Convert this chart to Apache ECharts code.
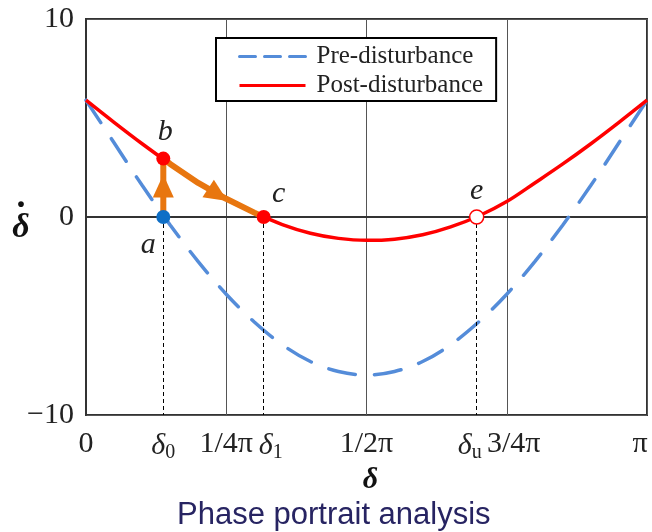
<!DOCTYPE html>
<html>
<head>
<meta charset="utf-8">
<script src="https://cdn.jsdelivr.net/npm/echarts@6/dist/echarts.min.js"></script>
<style>html,body{margin:0;padding:0;background:#fff}#c{width:652px;height:532px}</style>
</head>
<body>
<div id="c"></div>
<script>
// x values are in units of π (0 … 1)
const xs = [0, 0.05, 0.1, 0.15, 0.2, 0.25, 0.3, 0.35, 0.4, 0.45, 0.5, 0.55, 0.6, 0.65, 0.7, 0.75, 0.8, 0.85, 0.9, 0.95, 1];
const preDisturbance = [5.9, 3.75, 1.6, -0.4, -2.25, -3.9, -5.3, -6.45, -7.3, -7.8, -7.98, -7.8, -7.3, -6.45, -5.3, -3.9, -2.25, -0.4, 1.6, 3.75, 5.9];
const postDisturbance = [5.9, 4.78, 3.7, 2.68, 1.72, 0.92, 0.22, -0.38, -0.82, -1.08, -1.18, -1.12, -0.9, -0.5, 0.05, 0.78, 1.72, 2.68, 3.7, 4.78, 5.9];

// marked points a, b, c, e
const pointNames = ['a', 'b', 'c', 'e'];
const pointX = [0.1378, 0.1378, 0.3167, 0.6964];
const pointY = [0, 2.95, 0, 0];

// orange trajectory b -> c (along the post-disturbance curve)
const pathX = [0.15, 0.2, 0.25, 0.3];
const pathY = [2.68, 1.72, 0.92, 0.22];

// arrow heads
const arrowX = [0.1378, 0.235];
const arrowY = [1.57, 1.12];
const arrowRot = [0, -123];

const xTickValues = [0, pointX[0], 0.25, pointX[2], 0.5, pointX[3], 0.75, 1];
const xTickLabels = ['0', 'δ0', '1/4π', 'δ1', '1/2π', 'δu', '3/4π', 'π'];
const yTicks = [-10, 0, 10];

const serif = 'Liberation Serif';
const labelShift = {'δ1': [0, 0, 0, 14], 'δu': [0, 14, 0, 0], '3/4π': [0, 0, 0, 14], 'π': [0, 12, 0, 0]};

function fmtX(v) {
  let idx = 0, best = 1e9;
  xTickValues.forEach((t, i) => { const d = Math.abs(t - v); if (d < best) { best = d; idx = i; } });
  const s = xTickLabels[idx];
  const sh = labelShift[s];
  const pre = sh && sh[3] ? '{padL|}' : '';
  const post = sh && sh[1] ? '{padR|}' : '';
  if (s.startsWith('δ')) return pre + '{d|δ}{s|' + s.slice(1) + '}' + post;
  return pre + '{n|' + s + '}' + post;
}

const chart = echarts.init(document.getElementById('c'), null, {renderer: 'canvas'});

const labelOffsets = {a: [-15, 28], b: [2, -26], c: [15, -23], e: [0, -26]};
const markers = pointNames.map((n, i) => {
  const item = {value: [pointX[i], pointY[i]], name: n, label: {offset: labelOffsets[n]}};
  if (n === 'a') item.itemStyle = {color: '#0f6fc6'};
  else if (n === 'e') item.itemStyle = {color: '#fff', borderColor: '#ff0000', borderWidth: 1.5};
  else item.itemStyle = {color: '#ff0000'};
  return item;
});

const orangePath = [[pointX[0], pointY[0]], [pointX[1], pointY[1]]]
  .concat(pathX.map((x, i) => [x, pathY[i]]))
  .concat([[pointX[2], pointY[2]]]);

const hiddenSymbol = {color: 'rgba(0,0,0,0)', borderWidth: 0, opacity: 0};

const option = {
  animation: false,
  backgroundColor: '#fff',
  title: {
    text: 'Phase portrait analysis',
    left: 172, top: 495,
    textStyle: {fontFamily: 'Liberation Sans', fontSize: 31, fontWeight: 'normal', color: '#272462'}
  },
  grid: {left: 86, right: 5, top: 19, bottom: 117, show: true, borderColor: '#333', borderWidth: 2, backgroundColor: 'transparent', outerBoundsMode: 'none'},
  legend: {
    orient: 'vertical', left: 216, top: 38,
    padding: [6, 13, 3, 22],
    itemWidth: 66, itemHeight: 20, itemGap: 4,
    borderColor: '#000', borderWidth: 2, backgroundColor: '#fff',
    textStyle: {fontFamily: serif, fontSize: 25, color: '#222', padding: [0, 0, 0, 6]},
    data: [
      {name: 'Pre-disturbance', lineStyle: {type: [16, 9], width: 3}, itemStyle: hiddenSymbol},
      {name: 'Post-disturbance', lineStyle: {width: 3}, itemStyle: hiddenSymbol}
    ]
  },
  xAxis: {
    type: 'value', min: 0, max: 1, interval: 0.25,
    name: 'δ', nameLocation: 'middle', nameGap: 50, nameMoveOverlap: false,
    nameTextStyle: {fontFamily: serif, fontSize: 30, fontWeight: 'bold', fontStyle: 'italic', color: '#111', padding: [0, 0, 0, 8]},
    axisLine: {show: true, lineStyle: {color: '#333', width: 2}},
    axisTick: {show: false},
    splitLine: {show: true, lineStyle: {color: '#555', width: 1, type: 'solid'}},
    axisLabel: {
      customValues: xTickValues, margin: 14, formatter: fmtX, color: '#222',
      fontFamily: serif, fontSize: 30,
      rich: {
        n: {fontFamily: serif, fontSize: 30, color: '#222'},
        d: {fontFamily: serif, fontSize: 30, fontStyle: 'italic', color: '#222'},
        s: {fontFamily: serif, fontSize: 20, color: '#222', padding: [14, 0, 0, 0]},
        padL: {width: 14}, padR: {width: 14}
      }
    }
  },
  yAxis: {
    type: 'value', min: -10, max: 10, interval: 10,
    name: '{dot|·}\n{d|δ}', nameLocation: 'middle', nameGap: 55, nameRotate: 0, nameMoveOverlap: false,
    nameTextStyle: {
      padding: [10, 0, 0, 0],
      rich: {
        dot: {fontFamily: serif, fontSize: 36, fontWeight: 'bold', color: '#111', lineHeight: 12, width: 20, align: 'center'},
        d: {fontFamily: serif, fontSize: 34, fontWeight: 'bold', fontStyle: 'italic', color: '#111', lineHeight: 30, width: 20, align: 'center'}
      }
    },
    axisLine: {show: true, lineStyle: {color: '#333', width: 2}},
    axisTick: {show: false},
    splitLine: {show: true, lineStyle: {color: '#555', width: 1}},
    axisLabel: {
      customValues: yTicks, margin: 12, color: '#222', fontFamily: serif, fontSize: 30,
      formatter: v => (v < 0 ? '\u2212' + Math.abs(v) : String(v))
    }
  },
  series: [
    {
      name: 'Pre-disturbance', type: 'line', smooth: 0.35, symbol: 'none', z: 3,
      data: xs.map((x, i) => [x, preDisturbance[i]]),
      lineStyle: {color: '#548cd9', width: 3.5, type: [27, 19], cap: 'round'},
      itemStyle: {color: '#548cd9'}
    },
    {
      name: 'Post-disturbance', type: 'line', smooth: 0.35, symbol: 'none', z: 4,
      data: xs.map((x, i) => [x, postDisturbance[i]]),
      lineStyle: {color: '#ff0000', width: 3.5},
      itemStyle: {color: '#ff0000'}
    },
    {
      name: 'guides', type: 'line', data: [], z: 2,
      markLine: {
        silent: true, symbol: ['none', 'none'], label: {show: false},
        lineStyle: {color: '#000', type: [4, 3], width: 1},
        data: [0, 2, 3].map(i => [{coord: [pointX[i], pointY[i]]}, {coord: [pointX[i], -10]}])
      }
    },
    {
      name: 'trajectory', type: 'line', symbol: 'none', z: 5,
      data: orangePath,
      lineStyle: {color: '#e8760f', width: 6, cap: 'butt', join: 'round'}
    },
    {
      name: 'arrows', type: 'scatter', z: 6, symbol: 'triangle', symbolSize: [21, 23],
      itemStyle: {color: '#e8760f', opacity: 1},
      data: arrowX.map((x, i) => ({value: [x, arrowY[i]], symbolRotate: arrowRot[i]}))
    },
    {
      name: 'points', type: 'scatter', z: 7, symbolSize: 14,
      itemStyle: {opacity: 1},
      label: {show: true, formatter: '{b}', position: 'inside',
        fontFamily: serif, fontStyle: 'italic', fontSize: 30, color: '#222'},
      data: markers
    }
  ]
};
chart.setOption(option);
</script>
</body>
</html>
